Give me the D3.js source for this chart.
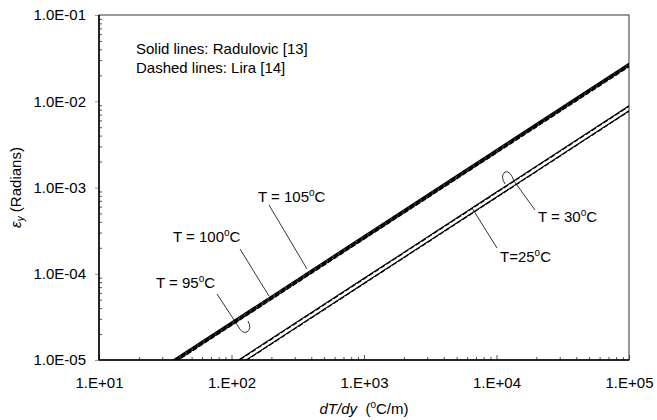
<!DOCTYPE html>
<html>
<head>
<meta charset="utf-8">
<script src="https://cdn.jsdelivr.net/npm/d3@7"></script>
<style>
  body { margin: 0; background: #fff; }
  text { font-family: Arial, "Liberation Sans", sans-serif; fill: #000; }
</style>
</head>
<body>
<svg id="chart"></svg>
<script>
var vWidth = 657;
var vHeight = 420;
var margin = {top: 15, right: 28, bottom: 60, left: 99};
var fs = 15;

// dT/dy points (oC/m) where each curve was read
var gradX = [10, 100, 1000, 10000, 100000];

// eps_y (Radians), solid = Radulovic, dashed = Lira
var t105Solid  = [2.76e-6, 2.76e-5, 2.76e-4, 2.76e-3, 2.76e-2];
var t105Dashed = [2.71e-6, 2.71e-5, 2.71e-4, 2.71e-3, 2.71e-2];
var t100Solid  = [2.65e-6, 2.65e-5, 2.65e-4, 2.65e-3, 2.65e-2];
var t100Dashed = [2.61e-6, 2.61e-5, 2.61e-4, 2.61e-3, 2.61e-2];
var t95Solid   = [2.55e-6, 2.55e-5, 2.55e-4, 2.55e-3, 2.55e-2];
var t95Dashed  = [2.51e-6, 2.51e-5, 2.51e-4, 2.51e-3, 2.51e-2];
var t30Solid   = [8.85e-7, 8.85e-6, 8.85e-5, 8.85e-4, 8.85e-3];
var t30Dashed  = [8.7e-7, 8.7e-6, 8.7e-5, 8.7e-4, 8.7e-3];
var t25Solid   = [7.75e-7, 7.75e-6, 7.75e-5, 7.75e-4, 7.75e-3];
var t25Dashed  = [7.65e-7, 7.65e-6, 7.65e-5, 7.65e-4, 7.65e-3];

var xTicks = [1e1, 1e2, 1e3, 1e4, 1e5];
var xTickLabels = ['1.E+01', '1.E+02', '1.E+03', '1.E+04', '1.E+05'];
var yTicks = [1e-5, 1e-4, 1e-3, 1e-2, 1e-1];
var yTickLabels = ['1.0E-05', '1.0E-04', '1.0E-03', '1.0E-02', '1.0E-01'];

var series = [
  {vals: t105Solid, dash: null}, {vals: t105Dashed, dash: '5,2'},
  {vals: t100Solid, dash: null}, {vals: t100Dashed, dash: '5,2'},
  {vals: t95Solid, dash: null},  {vals: t95Dashed, dash: '5,2'},
  {vals: t30Solid, dash: null},  {vals: t30Dashed, dash: '5,2'},
  {vals: t25Solid, dash: null},  {vals: t25Dashed, dash: '5,2'}
];

var w = vWidth - margin.left - margin.right;
var h = vHeight - margin.top - margin.bottom;

var x = d3.scaleLog().domain([1e1, 1e5]).range([0, w]);
var y = d3.scaleLog().domain([1e-5, 1e-1]).range([h, 0]);

var svg = d3.select('#chart')
    .attr('width', vWidth)
    .attr('height', vHeight);

var g = svg.append('g')
    .attr('transform', 'translate(' + margin.left + ',' + margin.top + ')');

g.append('clipPath').attr('id', 'plotclip')
  .append('rect').attr('width', w).attr('height', h);

// minor ticks (2..9 of each decade), drawn inside
function minors(lo, hi) {
  var out = [];
  for (var e = lo; e < hi; e++) {
    for (var m = 2; m <= 9; m++) out.push(m * Math.pow(10, e));
  }
  return out;
}

g.append('g')
    .attr('transform', 'translate(0,' + h + ')')
    .call(d3.axisBottom(x).tickValues(minors(1, 5)).tickSize(-3).tickFormat(''))
    .call(function (s) { s.select('.domain').remove(); s.selectAll('line').attr('stroke', '#555'); });

g.append('g')
    .call(d3.axisLeft(y).tickValues(minors(-5, -1)).tickSize(-3).tickFormat(''))
    .call(function (s) { s.select('.domain').remove(); s.selectAll('line').attr('stroke', '#555'); });

// major ticks + labels
var xAxis = g.append('g')
    .attr('transform', 'translate(0,' + h + ')')
    .call(d3.axisBottom(x).tickValues(xTicks).tickSizeInner(-5).tickSizeOuter(0)
      .tickPadding(17)
      .tickFormat(function (d, i) { return xTickLabels[i]; }));
xAxis.select('.domain').remove();
xAxis.selectAll('line').attr('stroke', '#555');
xAxis.selectAll('text').attr('font-size', fs).attr('font-family', 'Arial, "Liberation Sans", sans-serif');

var yAxis = g.append('g')
    .call(d3.axisLeft(y).tickValues(yTicks).tickSizeInner(4).tickSizeOuter(0)
      .tickPadding(9)
      .tickFormat(function (d, i) { return yTickLabels[i]; }));
yAxis.select('.domain').remove();
yAxis.selectAll('line').attr('stroke', '#999');
yAxis.selectAll('text').attr('font-size', fs).attr('font-family', 'Arial, "Liberation Sans", sans-serif');

// frame
g.append('rect')
    .attr('width', w).attr('height', h)
    .attr('fill', 'none').attr('stroke', '#333').attr('stroke-width', 1);
g.append('line').attr('x1', 0).attr('x2', 0).attr('y1', 0).attr('y2', h)
    .attr('stroke', '#000').attr('stroke-width', 1.5);
g.append('line').attr('x1', 0).attr('x2', w).attr('y1', h).attr('y2', h)
    .attr('stroke', '#000').attr('stroke-width', 1.5);

var line = d3.line()
    .x(function (d, i) { return x(gradX[i]); })
    .y(function (d) { return y(d); });

g.append('g').attr('clip-path', 'url(#plotclip)')
  .selectAll('path')
  .data(series)
  .enter()
  .append('path')
    .attr('d', function (d) { return line(d.vals); })
    .attr('fill', 'none')
    .attr('stroke', '#000')
    .attr('stroke-width', 1.1)
    .attr('stroke-dasharray', function (d) { return d.dash; });

// annotations
function label(px, py, main, tail) {
  var t = svg.append('text').attr('x', px).attr('y', py).attr('font-size', fs);
  t.append('tspan').text(main);
  t.append('tspan').attr('font-size', 10).attr('dy', -6).text('o');
  t.append('tspan').attr('dy', 6).text(tail);
}

svg.append('text').attr('x', 136).attr('y', 54).attr('font-size', fs).text('Solid lines: Radulovic [13]');
svg.append('text').attr('x', 136).attr('y', 73).attr('font-size', fs).text('Dashed lines: Lira [14]');

label(258, 202, 'T = 105', 'C');
label(173, 242, 'T = 100', 'C');
label(156, 288, 'T = 95', 'C');
label(538, 222, 'T = 30', 'C');
label(500, 262, 'T=25', 'C');

var leaders = [
  'M269,205 L307,269',
  'M240,249 L269,296',
  'M217,294 L238,326 Q242,334 247,332 Q252,328 248,321',
  'M535,210 L514,181 Q510,170 505,172 Q500,176 505,184',
  'M497,248 L472,208'
];
svg.selectAll('path.leader')
  .data(leaders)
  .enter()
  .append('path')
    .attr('class', 'leader')
    .attr('d', function (d) { return d; })
    .attr('fill', 'none')
    .attr('stroke', '#000')
    .attr('stroke-width', 0.8);

// axis titles
var xt = svg.append('text')
    .attr('x', margin.left + w / 2).attr('y', 414)
    .attr('text-anchor', 'middle').attr('font-size', fs);
xt.append('tspan').attr('font-style', 'italic').text('dT/dy');
xt.append('tspan').text('\u00a0 (');
xt.append('tspan').attr('font-size', 10).attr('dy', -6).text('o');
xt.append('tspan').attr('dy', 6).text('C/m)');

var yt = svg.append('text')
    .attr('transform', 'translate(21,' + (margin.top + h / 2) + ') rotate(-90)')
    .attr('text-anchor', 'middle').attr('font-size', fs);
yt.append('tspan').attr('font-style', 'italic').text('\u03b5');
yt.append('tspan').attr('font-style', 'italic').attr('font-size', 10).attr('dy', 3).text('y');
yt.append('tspan').attr('dy', -3).text('\u00a0(Radians)');
</script>
</body>
</html>
